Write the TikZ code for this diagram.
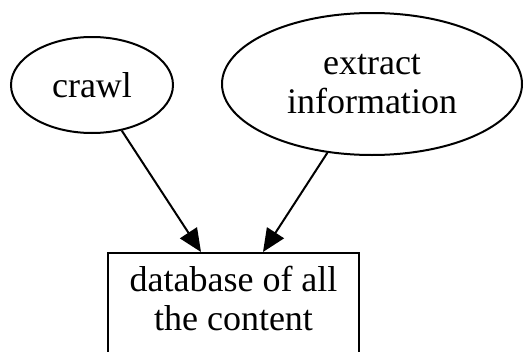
\documentclass[tikz,border=0pt]{standalone}
\usepackage{fontspec}
\setmainfont{Liberation Serif}
\usetikzlibrary{shapes.geometric,arrows.meta}
\begin{document}
\begin{tikzpicture}[x=1pt,y=-1pt,
  every node/.style={font=\fontsize{36}{39}\selectfont, line width=2pt, inner sep=0pt},
  oval/.style={draw, ellipse},
  box/.style={draw, rectangle, align=center, inner ysep=13pt, text depth=70pt},
  edge/.style={line width=2pt, -{Triangle[length=23pt,width=20pt]}}]
  \useasboundingbox (0,0) rectangle (525,351);
  \node[oval, minimum width=162pt, minimum height=96pt] (crawl) at (92,85) {crawl};
  \node[oval, minimum width=300pt, minimum height=142pt, align=center] (extract) at (372,84) {extract\\information};
  \node[box, minimum width=251pt, anchor=north] (db) at (233.5,252) {database of all\\the content};
  \draw[edge] (crawl) -- (db.north -| 201,0);
  \draw[edge] (extract) -- (db.north -| 263,0);
\end{tikzpicture}
\end{document}
